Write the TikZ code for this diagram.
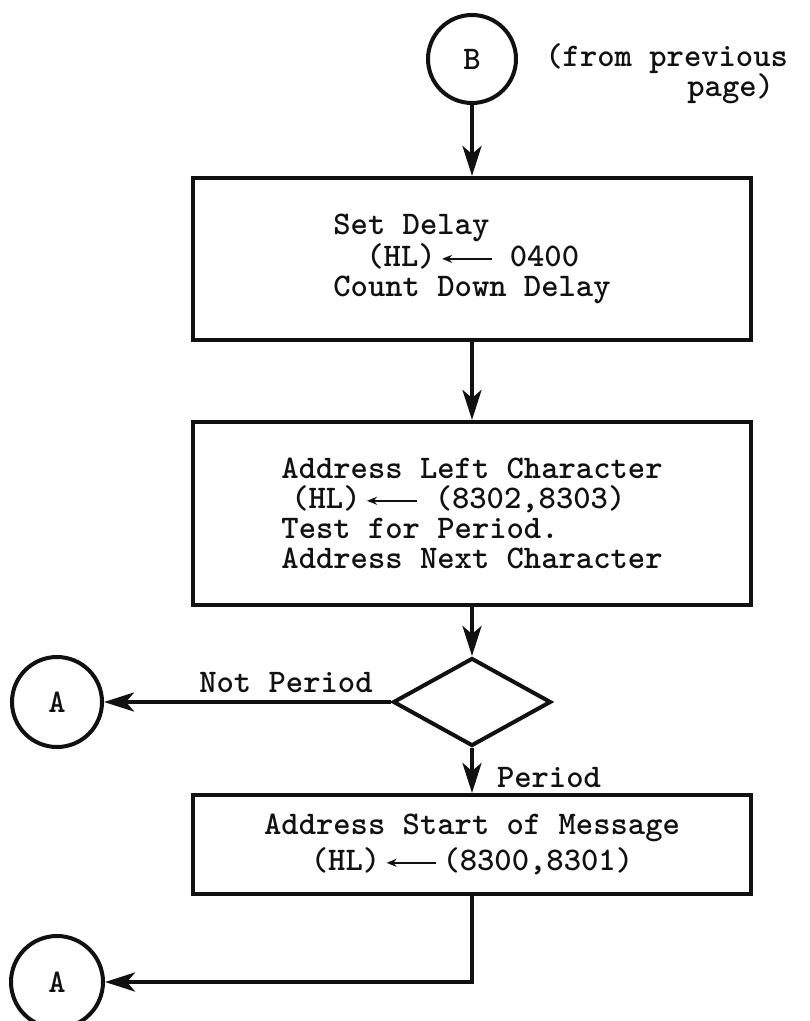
\documentclass[tikz,border=0pt]{standalone}
\usepackage{fontspec}
\usetikzlibrary{positioning, arrows.meta, shapes.geometric}
\definecolor{clrborder}{HTML}{111111}
\definecolor{clrtext}{HTML}{111111}
\newcommand{\hlarrow}{\tikz[baseline=-0.55ex]\draw[color=clrborder, line width=0.9pt, -{Stealth[length=5pt,width=4pt]}] (1.5em,0) -- (0,0);}

\begin{document}
\begin{tikzpicture}[
    >={Stealth[length=15pt, width=9.5pt, inset=4pt]},
    every node/.style={font=\ttfamily\bfseries\fontsize{16.5pt}{15pt}\selectfont, text=clrtext},
    block/.style={draw=clrborder, rectangle, line width=2pt, minimum width=279pt, inner sep=0pt},
    decision/.style={draw=clrborder, diamond, line width=2pt, minimum width=79pt, minimum height=44pt, inner sep=0pt},
    joint/.style={draw=clrborder, circle, line width=2pt, minimum size=44pt, inner sep=0pt},
    arrow/.style={->, color=clrborder, line width=2pt},
    label/.style={inner sep=1pt},
]
\useasboundingbox (0,0) rectangle (404.5pt,-510.5pt);
\node[joint] (n_1) at (236pt,-29.5pt) {B};
\node[label, right=12.5pt of n_1, yshift=-7.5pt, align=left] (n_2) {(from previous\\\hspace*{71pt}page)};
\node[block, minimum height=81pt, align=left, below=35.5pt of n_1] (n_3) {Set Delay\\\hspace*{1em}(HL)\,\hlarrow\ 0400\\Count Down Delay};
\node[block, minimum height=91.5pt, align=left, below=39pt of n_3] (n_4) {Address Left Character\\\hspace*{0.3em}(HL)\,\hlarrow\ (8302,8303)\\Test for Period.\\Address Next Character};
\node[decision, below=24.5pt of n_4] (n_5) {};
\node[block, minimum height=49.5pt, align=center, below=22.5pt of n_5] (n_6) {Address Start of Message\\[2pt](HL)\,\hlarrow\,(8300,8301)};
\node[joint, minimum size=45pt, left=143.5pt of n_5] (n_7) {A};
\coordinate[below=43pt of n_6] (c_1);
\node[joint, minimum size=46pt] (n_8) at (n_7 |- c_1) {A};
\draw[arrow] (n_1) -- (n_3);
\draw[arrow] (n_3) -- (n_4);
\draw[arrow] (n_4) -- (n_5);
\draw[arrow] (n_5.west) -- node[label, above=2.5pt, pos=0.366] {Not Period} (n_7);
\draw[arrow] (n_5) -- node[label, right=10.5pt, pos=0.65] {Period} (n_6);
\draw[arrow] (n_6.south) -- (c_1) -- (n_8);
\end{tikzpicture}
\end{document}
